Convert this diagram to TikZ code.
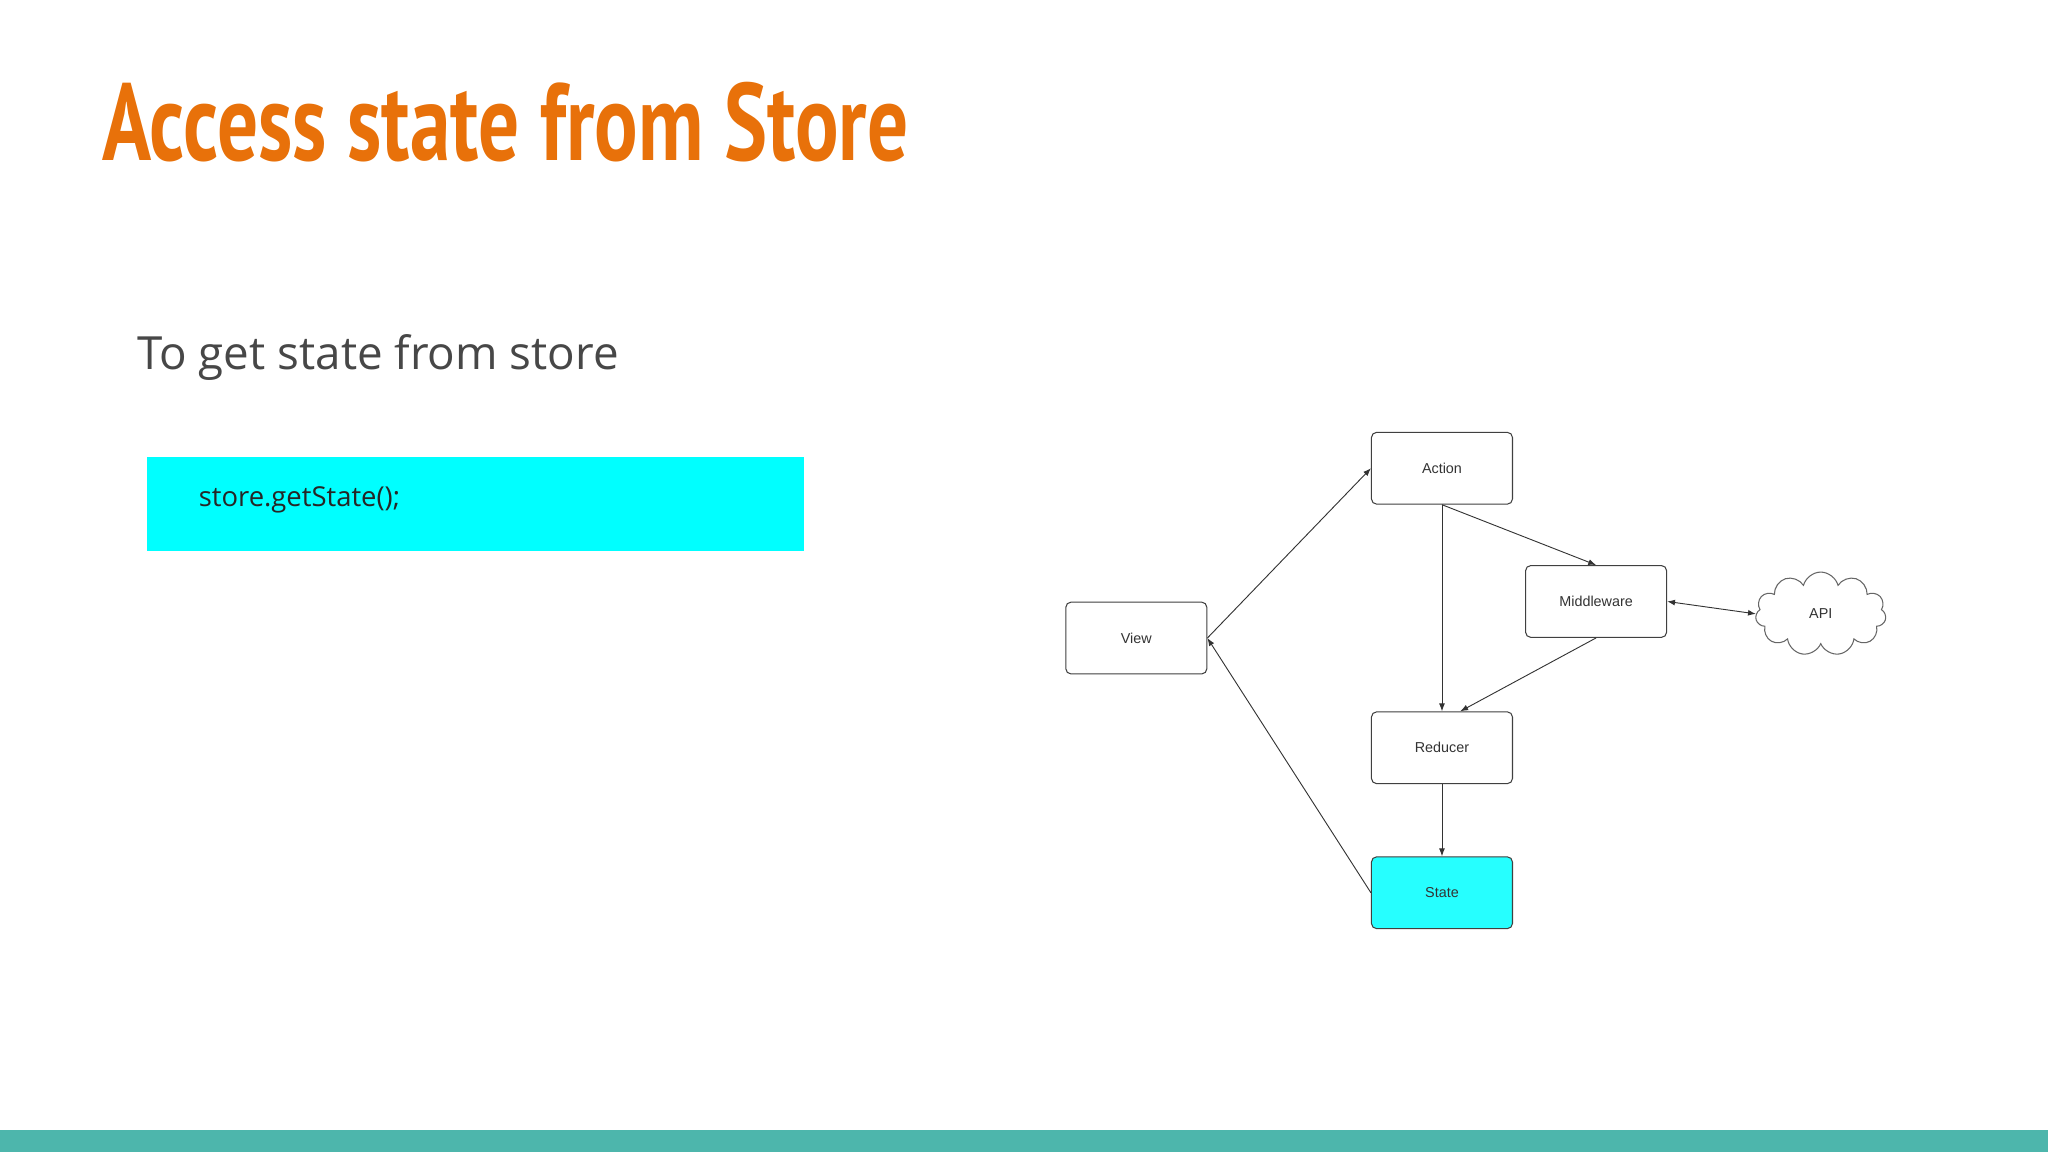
\documentclass[tikz,border=0pt]{standalone}
\usepackage{fontspec}
\setmainfont{Open Sans}
\newfontfamily\titlefont{PT Sans}
\newfontfamily\diafont{Liberation Sans}
\usetikzlibrary{shapes.symbols,arrows.meta}
\definecolor{titleor}{HTML}{E8710A}
\definecolor{bartl}{HTML}{4DB6AC}
\definecolor{cyanbx}{HTML}{00FFFF}
\tikzset{
  box/.style={draw=black!75,rounded corners=4pt,minimum width=108pt,minimum height=55pt,inner sep=0pt,font=\diafont\fontsize{11}{13}\selectfont,text=black!80,line width=0.8pt},
  conn/.style={draw=black!80,line width=0.7pt,-{Latex[length=6pt,width=4.5pt]}},
}
\begin{document}
\begin{tikzpicture}[x=1pt,y=-1pt]
\useasboundingbox (0,0) rectangle (1568,882);
\fill[white] (0,0) rectangle (1568,882);
\fill[bartl] (0,865) rectangle (1568,882);
\node[anchor=base west,inner sep=0pt,text=titleor] (title) at (78,123)
  {\scalebox{0.74}[1]{\titlefont\bfseries\fontsize{84}{90}\selectfont Access state from Store}};
\node[anchor=base west,inner sep=0pt,text=black!72] (sub) at (105,283)
  {\fontsize{35}{40}\selectfont To get state from store};
\node[fill=cyanbx,minimum width=503pt,minimum height=72pt,inner sep=0pt,anchor=north west] (code) at (112,350) {};
\node[anchor=base west,inner sep=0pt,text=black!85] (codet) at (152,388)
  {\fontsize{21}{24}\selectfont store.getState();};
\node[box] (action) at (1104,358.5) {Action};
\node[box] (mid) at (1222,460.5) {Middleware};
\node[box] (view) at (870,488.5) {View};
\node[box] (red) at (1104,572.5) {Reducer};
\node[box,fill=cyanbx!85] (state) at (1104,683.5) {State};
\node[cloud,cloud puffs=11,aspect=1.6,draw=black!60,line width=0.8pt,minimum width=100pt,minimum height=64pt,font=\diafont\fontsize{11}{13}\selectfont,text=black!80] (api) at (1394,470) {API};
\draw[conn] (view.east) -- (action.west);
\draw[conn] (action.south) -- (red.north);
\draw[conn] (action.south) -- (mid.north);
\draw[conn] (mid.south) -- ([xshift=14pt]red.north);
\draw[conn,{Latex[length=6pt,width=4.5pt]}-{Latex[length=6pt,width=4.5pt]}] (mid.east) -- (api.west);
\draw[conn] (red.south) -- (state.north);
\draw[conn] (state.west) -- (view.east);
\end{tikzpicture}
\end{document}
